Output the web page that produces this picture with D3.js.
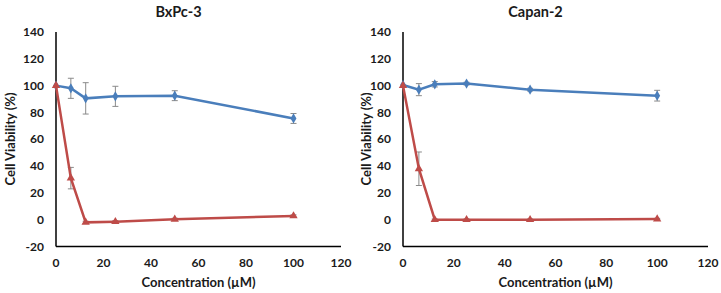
<!DOCTYPE html>
<html>
<head>
<meta charset="utf-8">
<script src="https://cdn.jsdelivr.net/npm/d3@7"></script>
<style>
  body { margin: 0; background: #fff; }
  text { font-family: Lato, "Open Sans", sans-serif; font-weight: bold; fill: #1a1a1a; }
</style>
</head>
<body>
<div id="chart"></div>
<script>
var conc = [0, 6.25, 12.5, 25, 50, 100]
var xTicks = [0, 20, 40, 60, 80, 100, 120]
var yTicks = [-20, 0, 20, 40, 60, 80, 100, 120, 140]

// BxPc-3
var bxBlue = [100, 98, 90.5, 92, 92.5, 75.5]
var bxBlueErr = [0, 7.5, 11.7, 7.5, 3.7, 3.7]
var bxRed = [100, 31, -2, -1.5, 0.3, 2.8]
var bxRedErr = [0, 8, 0.8, 0.8, 0.8, 0.8]

// Capan-2
var caBlue = [100.5, 97, 101, 101.5, 97, 92.5]
var caBlueErr = [0, 4.5, 2, 1, 1, 4]
var caRed = [100, 38, 0, 0, 0, 0.5]
var caRedErr = [0, 12.5, 0.5, 0.5, 0.5, 0.5]

var panels = [
  { title: 'BxPc-3', left: 56, right: 341, blue: bxBlue, blueErr: bxBlueErr, red: bxRed, redErr: bxRedErr, ytx: 10 },
  { title: 'Capan-2', left: 403, right: 708, blue: caBlue, blueErr: caBlueErr, red: caRed, redErr: caRedErr, ytx: 366 }
]

var blueCol = '#4a7ebb'
var redCol = '#be4b48'

var svg = d3.select('#chart').append('svg')
  .attr('width', 721)
  .attr('height', 293)

var yTop = 32, yBottom = 246.5

panels.forEach(function (p) {
  var x = d3.scaleLinear().domain([0, 120]).range([p.left, p.right])
  var y = d3.scaleLinear().domain([-20, 140]).range([yBottom, yTop])
  var g = svg.append('g')

  // axis lines
  g.append('line')
    .attr('x1', x(0)).attr('x2', x(0))
    .attr('y1', y(140)).attr('y2', y(-20))
    .attr('stroke', '#000').attr('stroke-width', 1.5)
  g.append('line')
    .attr('x1', x(0)).attr('x2', x(120))
    .attr('y1', y(-20)).attr('y2', y(-20))
    .attr('stroke', '#000').attr('stroke-width', 1.5)

  // tick labels
  g.selectAll('.yt')
    .data(yTicks)
    .enter()
    .append('text')
      .attr('x', x(0) - 12)
      .attr('y', d => y(d))
      .attr('dy', '0.35em')
      .attr('text-anchor', 'end')
      .style('font-size', '12px')
      .text(d => d)
  g.selectAll('.xt')
    .data(xTicks)
    .enter()
    .append('text')
      .attr('x', d => x(d))
      .attr('y', 263)
      .attr('dy', '0.35em')
      .attr('text-anchor', 'middle')
      .style('font-size', '12px')
      .text(d => d)

  // titles
  g.append('text')
    .attr('x', (p.left + p.right) / 2 - 20)
    .attr('y', 12)
    .attr('dy', '0.35em')
    .attr('text-anchor', 'middle')
    .style('font-size', '14.5px')
    .text(p.title)
  g.append('text')
    .attr('x', (p.left + p.right) / 2)
    .attr('y', 282)
    .attr('dy', '0.35em')
    .attr('text-anchor', 'middle')
    .style('font-size', '13px')
    .text('Concentration (µM)')
  g.append('text')
    .attr('transform', 'translate(' + p.ytx + ',' + 139 + ') rotate(-90)')
    .attr('dy', '0.35em')
    .attr('text-anchor', 'middle')
    .style('font-size', '13px')
    .text('Cell Viability (%)')

  var series = [
    { vals: p.blue, err: p.blueErr, color: blueCol, shape: d3.symbolDiamond },
    { vals: p.red, err: p.redErr, color: redCol, shape: d3.symbolTriangle }
  ]

  series.forEach(function (s) {
    var pts = conc.map(function (c, i) { return { c: c, v: s.vals[i], e: s.err[i] } })

    // error bars
    var eb = g.selectAll(null)
      .data(pts.filter(d => d.e > 0))
      .enter()
      .append('g')
    eb.append('line')
      .attr('x1', d => x(d.c)).attr('x2', d => x(d.c))
      .attr('y1', d => y(d.v + d.e)).attr('y2', d => y(d.v - d.e))
      .attr('stroke', '#8a8a8a').attr('stroke-width', 1)
    eb.append('line')
      .attr('x1', d => x(d.c) - 3).attr('x2', d => x(d.c) + 3)
      .attr('y1', d => y(d.v + d.e)).attr('y2', d => y(d.v + d.e))
      .attr('stroke', '#8a8a8a').attr('stroke-width', 1)
    eb.append('line')
      .attr('x1', d => x(d.c) - 3).attr('x2', d => x(d.c) + 3)
      .attr('y1', d => y(d.v - d.e)).attr('y2', d => y(d.v - d.e))
      .attr('stroke', '#8a8a8a').attr('stroke-width', 1)

    var line = d3.line()
      .x(d => x(d.c))
      .y(d => y(d.v))
    g.append('path')
      .datum(pts)
      .attr('d', line)
      .attr('fill', 'none')
      .attr('stroke', s.color)
      .attr('stroke-width', 2.5)

    g.selectAll(null)
      .data(pts)
      .enter()
      .append('path')
        .attr('d', d3.symbol().type(s.shape).size(30))
        .attr('transform', d => 'translate(' + x(d.c) + ',' + y(d.v) + ')')
        .attr('fill', s.color)
  })
})
</script>
</body>
</html>
